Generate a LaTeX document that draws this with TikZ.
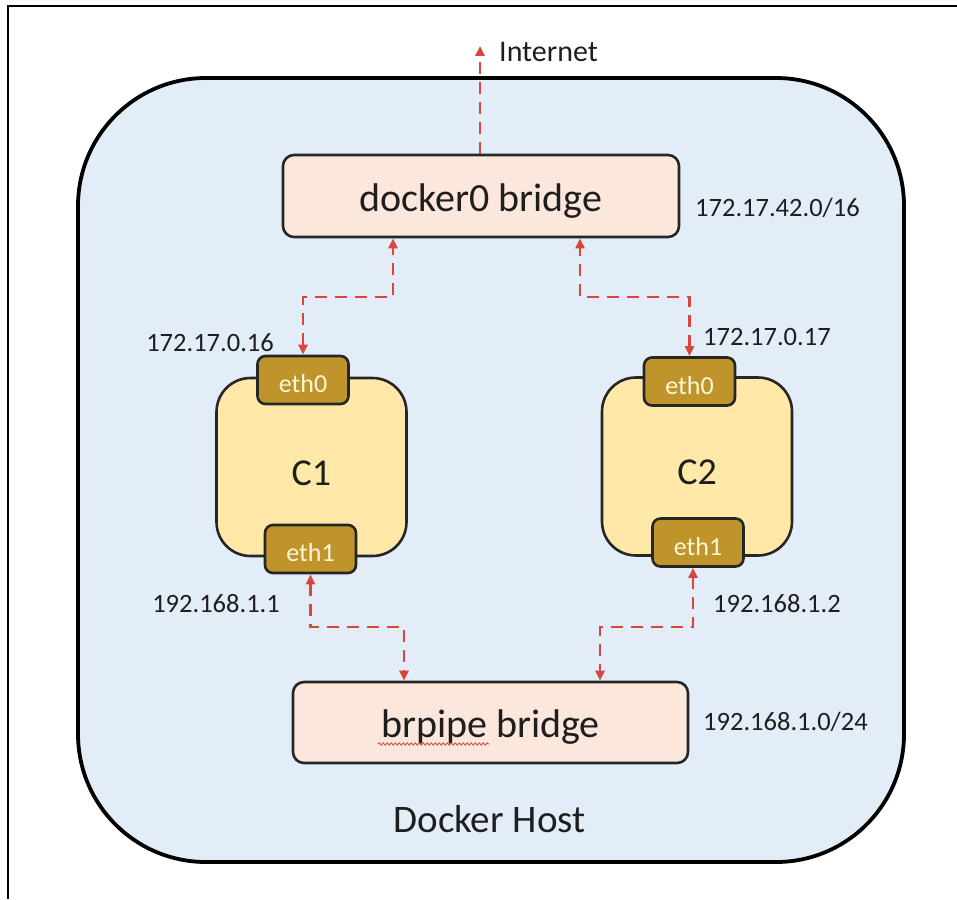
\documentclass[tikz,border=0pt]{standalone}
\usepackage{fontspec}
\setmainfont{Carlito}
\usetikzlibrary{arrows.meta,decorations.pathmorphing}
\definecolor{hostfill}{HTML}{E3EDF7}
\definecolor{bridgefill}{HTML}{FCE7DD}
\definecolor{cfill}{HTML}{FFE8A8}
\definecolor{ethfill}{HTML}{BF952B}
\definecolor{ethtext}{HTML}{FFF6D8}
\definecolor{linkred}{HTML}{D9463E}
\definecolor{txt}{HTML}{1E1E1E}
\tikzset{
  host/.style={draw=black,line width=3.8pt,fill=hostfill,rounded corners=128pt},
  bridge/.style={draw=black!85,line width=2.6pt,fill=bridgefill,rounded corners=11pt,
    minimum width=396pt,minimum height=82pt,inner sep=0pt,text=txt,
    text height=30pt,text depth=0pt,font=\fontsize{40}{44}\selectfont},
  ctr/.style={draw=black!85,line width=2.6pt,fill=cfill,rounded corners=34pt,
    minimum width=190pt,minimum height=178pt,inner sep=0pt,text=txt,
    text height=36pt,text depth=0pt,font=\fontsize{38}{42}\selectfont},
  eth/.style={draw=black!85,line width=2.6pt,fill=ethfill,rounded corners=8pt,
    minimum width=91pt,minimum height=48pt,inner sep=0pt,text=ethtext,
    text height=25pt,text depth=0pt,font=\fontsize{26}{30}\selectfont},
  ip/.style={text=txt,font=\fontsize{26.5}{30}\selectfont,inner sep=0pt},
  link/.style={draw=linkred,line width=2.6pt,dash pattern=on 12pt off 8pt,
    {Triangle[length=10pt,width=9pt]}-{Triangle[length=10pt,width=9pt]}},
  uplink/.style={draw=linkred,line width=2.6pt,dash pattern=on 12pt off 8pt,
    -{Triangle[length=10pt,width=9pt]}},
  frameline/.style={draw=black,line width=2.5pt}
}
\begin{document}
\begin{tikzpicture}[x=1pt,y=-1pt]
\useasboundingbox (0,0) rectangle (957,899);
% outer frame lines
\coordinate (ftl) at (8,6);
\coordinate (ftr) at (957,6);
\coordinate (fbl) at (8,899);
\draw[frameline] (ftr) -- (ftl) -- (fbl);
% host
\draw[host] (78,78) rectangle (904,862);
\node[text=txt,font=\fontsize{39}{43}\selectfont,anchor=base,inner sep=0pt] (hostlabel) at (489.5,832) {Docker Host};
% bridges
\node[bridge] (d0) at (481,196) {docker0 bridge};
\node[bridge,minimum width=395pt,minimum height=81pt] (br) at (490.5,722.5) {brpipe bridge};
% containers
\node[ctr] (c1) at (311.5,467) {C1};
\node[ctr] (c2) at (697,466.5) {C2};
\node[eth] (c1e0) at (303,380) {eth0};
\node[eth] (c1e1) at (310.5,549) {eth1};
\node[eth] (c2e0) at (689.5,381.5) {eth0};
\node[eth] (c2e1) at (698,542.5) {eth1};
% labels
\node[ip,anchor=west] (n1) at (695,208) {172.17.42.0/16};
\node[ip,anchor=east] (n2) at (274,343) {172.17.0.16};
\node[ip,anchor=west] (n3) at (703,337) {172.17.0.17};
\node[ip,anchor=east] (n4) at (280,604) {192.168.1.1};
\node[ip,anchor=west] (n5) at (713,604) {192.168.1.2};
\node[ip,anchor=west] (n6) at (703,722) {192.168.1.0/24};
% internet
\coordinate (inet) at (480,46);
\node[text=txt,font=\fontsize{30}{34}\selectfont,anchor=base west,inner sep=0pt] (inettxt) at (499,62) {Internet};
\draw[uplink] (d0.north -| inet) -- (inet);
% upper links
\coordinate (k1) at (393,297);
\coordinate (k2) at (580,297);
\draw[link] (c1e0.north) |- (k1) -- (k1 |- d0.south);
\draw[link] (c2e0.north) |- (k2) -- (k2 |- d0.south);
% lower links
\coordinate (k3) at (404,627);
\coordinate (k4) at (600,627);
\coordinate (k5) at (693,627);
\draw[link] (c1e1.south) |- (k3) -- (k3 |- br.north);
\draw[link] (k5 |- c2e1.south) -- (k5) -- (k4) -- (k4 |- br.north);
% spell-check squiggle under brpipe
\coordinate (sq1) at (378,744);
\coordinate (sq2) at (489,744);
\draw[linkred,line width=0.8pt,decorate,decoration={snake,amplitude=1.2pt,segment length=4pt}] (sq1) -- (sq2);
\end{tikzpicture}
\end{document}
